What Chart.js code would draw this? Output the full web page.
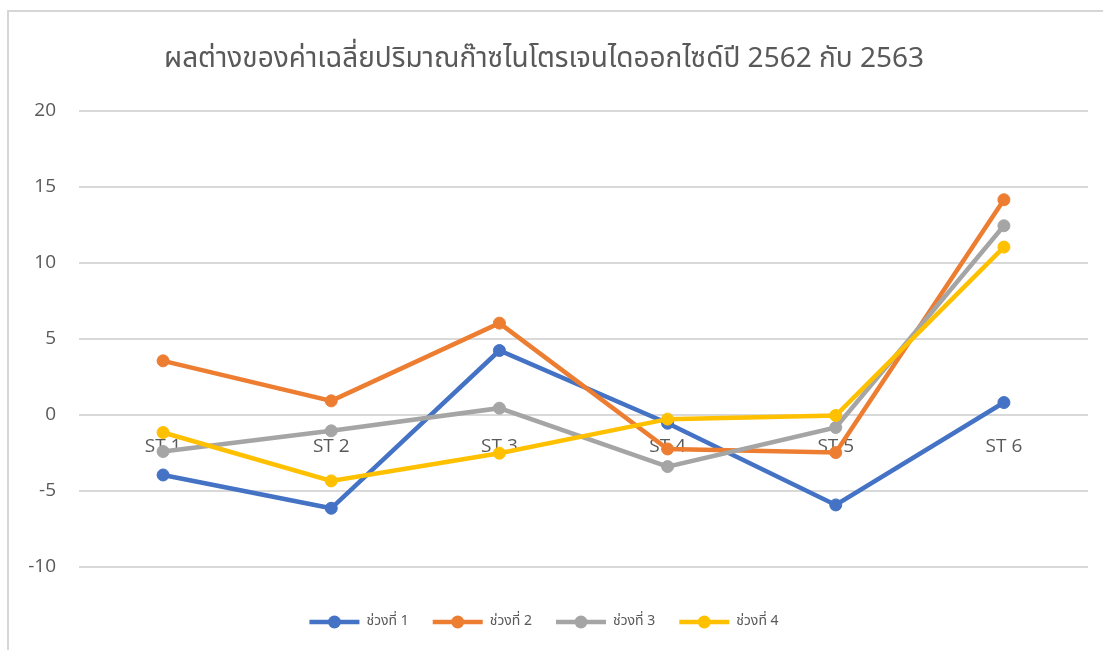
<!DOCTYPE html>
<html>
<head>
<meta charset="utf-8">
<script src="https://cdn.jsdelivr.net/npm/chart.js@4.4.1/dist/chart.umd.min.js"></script>
<style>
  html, body { margin: 0; padding: 0; background: #fff; }
  canvas { display: block; }
</style>
</head>
<body>
<canvas id="no2Chart" width="1103" height="650"></canvas>
<script>
const chartTitle = 'ผลต่างของค่าเฉลี่ยปริมาณก๊าซไนโตรเจนไดออกไซด์ปี 2562 กับ 2563';
const stations = ['ST 1', 'ST 2', 'ST 3', 'ST 4', 'ST 5', 'ST 6'];
const periodNames = ['ช่วงที่ 1', 'ช่วงที่ 2', 'ช่วงที่ 3', 'ช่วงที่ 4'];

// difference per station for each period
const period1 = [-3.95, -6.14, 4.23, -0.55, -5.92, 0.81];
const period2 = [3.55, 0.92, 6.03, -2.24, -2.48, 14.14];
const period3 = [-2.41, -1.05, 0.44, -3.40, -0.83, 12.43];
const period4 = [-1.16, -4.34, -2.52, -0.28, -0.04, 11.03];

const yTicks = [-10, -5, 0, 5, 10, 15, 20];

const seriesColors = ['#4472C4', '#ED7D31', '#A5A5A5', '#FFC000'];
const textColor = '#595959';
const gridColor = '#d9d9d9';
const thaiFont = "'Noto Sans Thai', 'Noto Sans', sans-serif";
const tickFont = "'Open Sans', sans-serif";

const datasets = [period1, period2, period3, period4].map((values, i) => ({
    label: periodNames[i],
    data: values,
    borderColor: seriesColors[i],
    backgroundColor: seriesColors[i],
    borderWidth: 4.5,
    tension: 0,
    pointRadius: 6,
    pointBorderWidth: 1,
    pointBackgroundColor: seriesColors[i],
    pointBorderColor: seriesColors[i],
    // later series painted on top
    order: 3 - i
}));

// thin frame along the top and left edge
const framePlugin = {
    id: 'frame',
    beforeDraw(chart) {
        const ctx = chart.ctx;
        ctx.save();
        ctx.fillStyle = '#fff';
        ctx.fillRect(0, 0, chart.width, chart.height);
        ctx.strokeStyle = '#d6d6d6';
        ctx.lineWidth = 2;
        ctx.strokeRect(8, 11, chart.width + 20, chart.height + 20);
        ctx.restore();
    }
};

// circle marker in the middle of each legend line
const legendMarkerPlugin = {
    id: 'legendMarkers',
    afterDraw(chart) {
        const legend = chart.legend;
        if (!legend || !legend.legendHitBoxes) return;
        const ctx = chart.ctx;
        const boxWidth = legend.options.labels.boxWidth;
        legend.legendItems.forEach((item, i) => {
            const box = legend.legendHitBoxes[i];
            ctx.save();
            ctx.fillStyle = seriesColors[item.datasetIndex];
            ctx.beginPath();
            ctx.arc(box.left + boxWidth / 2, box.top + box.height / 2, 6.5, 0, Math.PI * 2);
            ctx.fill();
            ctx.restore();
        });
    }
};

new Chart(document.getElementById('no2Chart'), {
    type: 'line',
    data: {
        labels: stations,
        datasets: datasets
    },
    options: {
        responsive: false,
        animation: false,
        layout: {
            padding: { left: 0, right: 15, top: 0, bottom: 11 }
        },
        plugins: {
            title: {
                display: true,
                text: chartTitle,
                color: textColor,
                font: { family: thaiFont, size: 28, weight: 'normal', lineHeight: 1.2 },
                padding: { top: 45, bottom: 32 }
            },
            legend: {
                position: 'bottom',
                title: {
                    display: true,
                    text: '',
                    font: { size: 24, lineHeight: 1 },
                    padding: 0
                },
                labels: {
                    boxWidth: 50,
                    boxHeight: 0,
                    padding: 24,
                    color: textColor,
                    font: { family: thaiFont, size: 14 },
                    sort: (a, b) => a.datasetIndex - b.datasetIndex
                }
            },
            tooltip: { enabled: false }
        },
        scales: {
            x: {
                position: { y: 0 },
                offset: true,
                grid: { display: false, drawTicks: false, offset: true },
                border: { display: false },
                ticks: {
                    color: textColor,
                    padding: 20,
                    font: { family: tickFont, size: 19 }
                }
            },
            y: {
                min: yTicks[0],
                max: yTicks[yTicks.length - 1],
                afterFit(scale) { scale.width = 79; },
                afterBuildTicks(scale) { scale.ticks = yTicks.map(v => ({ value: v })); },
                grid: { color: gridColor, lineWidth: 2, drawTicks: false },
                border: { display: false },
                ticks: {
                    color: textColor,
                    padding: 23,
                    font: { family: tickFont, size: 19 }
                }
            }
        }
    },
    plugins: [framePlugin, legendMarkerPlugin]
});
</script>
</body>
</html>
